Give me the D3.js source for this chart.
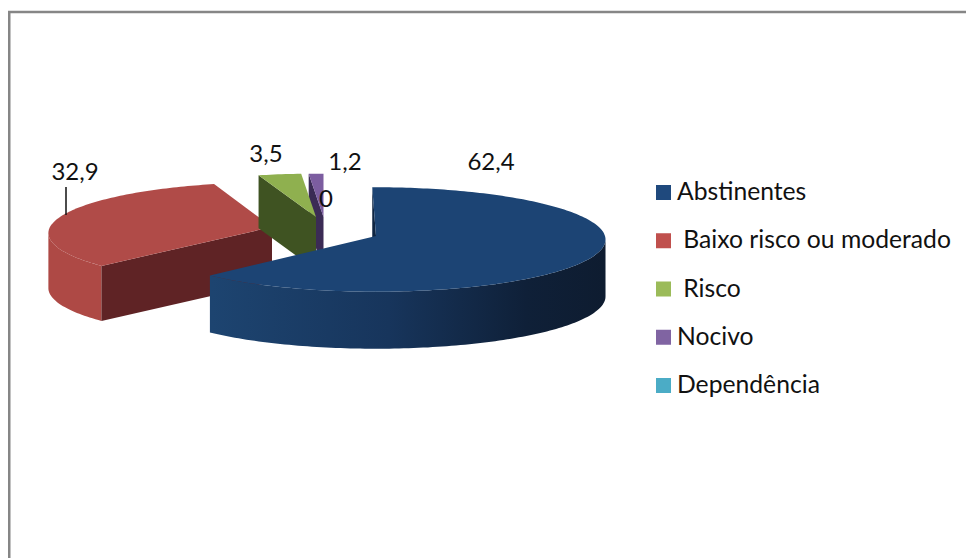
<!DOCTYPE html>
<html><head><meta charset="utf-8">
<script src="https://cdn.jsdelivr.net/npm/d3@7/dist/d3.min.js"></script>
<style>html,body{margin:0;padding:0;background:#fff}svg{display:block}text{font-family:Lato,"Open Sans",sans-serif;fill:#111;white-space:pre}</style>
</head><body><svg id="c" width="966" height="558"></svg>
<script>
const categories = ["Abstinentes"," Baixo risco ou moderado"," Risco","Nocivo","Dependência"];
const values = [62.4,32.9,3.5,1.2,0];
const valueLabels = ["62,4","32,9","3,5","1,2","0"];
const legendColors = ["#1f497d","#c0504d","#9bbb59","#8064a2","#4bacc6"];
const topColors = ["#1c4474","#b04b48","#8fb04f","#7c5da0","#4bacc6"];
const faceColors = ["#0e2542","#5f2325","#3f5322","#3b2b55","#2a6070"];
const wallColors = ["url(#blueWall)","#ae4945",null,null,null];

// Layout of each exploded slice (not data)
const sliceLayout = [
  {cx:376,cy:236,rx:229,ry:52,k:.067,rot:-1,depth:57},
  {cx:272,cy:227,rx:222,ry:50,k:.12,rot:0,depth:55},
  {cx:316,cy:217,rx:222,ry:49,k:.13,rot:0,depth:53},
  {cx:323.5,cy:217,rx:222,ry:49,k:.13,rot:0,depth:53},
  {cx:323.5,cy:217,rx:222,ry:49,k:.13,rot:0,depth:53}
];
const labelPos = [[491,170],[75,180],[266,162],[345,170],[326,207]];
const drawOrder = [1,3,4,2,0];

const svg = d3.select("#c");
const defs = svg.append("defs");
const g = defs.append("linearGradient").attr("id","blueWall").attr("gradientUnits","userSpaceOnUse")
  .attr("x1",212).attr("x2",605).attr("y1",0).attr("y2",0);
[[0,"#1d4470"],[.45,"#17355c"],[.8,"#0f2038"],[1,"#0e1c30"]].forEach(([o,c])=>g.append("stop").attr("offset",o).attr("stop-color",c));

// frame
svg.append("path").attr("d","M9.25,558V12H966").attr("fill","none").attr("stroke","#868686").attr("stroke-width",2.5);

const pie = d3.pie().sort(null).value(d=>d).startAngle(0).endAngle(2*Math.PI);
const arcs = pie(values);
const line = d3.line();

function project(l,a,dy=0){
  const t=a+l.rot*Math.PI/180, X=Math.sin(t), Y=Math.cos(t), p=1/(1+l.k*Y);
  return [l.cx+l.rx*X*p, l.cy-l.ry*Y*p+dy];
}
function sweep(a0,a1){const n=Math.max(2,Math.ceil(Math.abs(a1-a0)/0.02));return d3.range(n+1).map(i=>a0+(a1-a0)*i/n);}

drawOrder.forEach(i=>{
  const d=arcs[i], l=sliceLayout[i];
  if(d.endAngle-d.startAngle<=0) return;
  const s=svg.append("g");
  const apex=[l.cx,l.cy];
  if(wallColors[i]){
    // outer wall: only the part between the silhouette extremes faces the viewer
    const all=sweep(d.startAngle,d.endAngle);
    const right=d3.greatest(all.filter(a=>a<Math.PI),a=>project(l,a)[0]);
    const left=d3.least(all.filter(a=>a>Math.PI),a=>project(l,a)[0]);
    const a0=Math.max(d.startAngle,right??d.startAngle), a1=Math.min(d.endAngle,left??d.endAngle);
    const pts=sweep(a0,a1);
    s.append("path").attr("fill",wallColors[i])
      .attr("d",line(pts.map(a=>project(l,a)).concat(pts.slice().reverse().map(a=>project(l,a,l.depth))))+"Z");
  }
  // cut face at the start angle
  const c=project(l,d.startAngle);
  s.append("path").attr("fill",faceColors[i])
    .attr("d",line([apex,c,[c[0],c[1]+l.depth],[apex[0],apex[1]+l.depth]])+"Z");
  // top
  s.append("path").attr("fill",topColors[i])
    .attr("d",line([apex].concat(sweep(d.startAngle,d.endAngle).map(a=>project(l,a))))+"Z");
});

// leader line
svg.append("line").attr("x1",66).attr("x2",66).attr("y1",187).attr("y2",215).attr("stroke","#111").attr("stroke-width",1.5);

// data labels
svg.selectAll("text.v").data(valueLabels).join("text").attr("class","v")
  .attr("x",(d,i)=>labelPos[i][0]).attr("y",(d,i)=>labelPos[i][1])
  .attr("text-anchor","middle").attr("font-size",24).text(d=>d);

// legend
const ly=d3.scalePoint().domain(categories).range([185,378]);
const lg=svg.selectAll("g.l").data(categories).join("g").attr("class","l");
lg.append("rect").attr("x",656).attr("y",d=>ly(d)).attr("width",15).attr("height",15).attr("fill",(d,i)=>legendColors[i]);
lg.append("text").attr("x",677).attr("y",d=>ly(d)+15).attr("font-size",24.7).text(d=>d);
</script></body></html>
